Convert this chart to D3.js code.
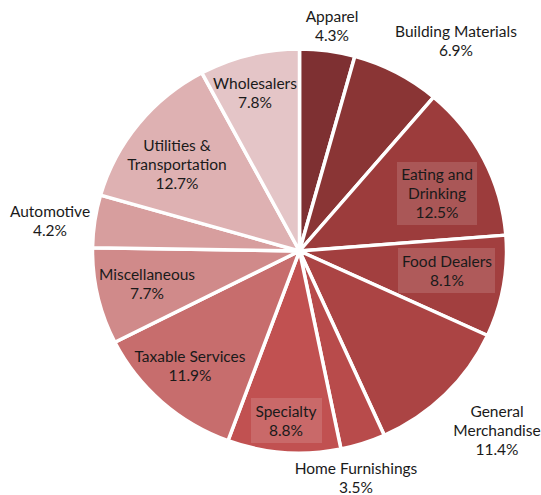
<!DOCTYPE html>
<html>
<head>
<meta charset="utf-8">
<script src="https://cdn.jsdelivr.net/npm/d3@7"></script>
<style>
  body { margin: 0; background: #fff; }
  svg { display: block; }
</style>
</head>
<body>
<svg id="chart"></svg>
<script>
// data
var categories = ['Apparel', 'Building Materials', 'Eating and Drinking', 'Food Dealers',
  'General Merchandise', 'Home Furnishings', 'Specialty', 'Taxable Services',
  'Miscellaneous', 'Automotive', 'Utilities & Transportation', 'Wholesalers']
var values = [4.3, 6.9, 12.5, 8.1, 11.4, 3.5, 8.8, 11.9, 7.7, 4.2, 12.7, 7.8]

// colours, darkest first
var colors = ['#7e3032', '#8a3535', '#9c3c3c', '#a23f3f', '#ab4444', '#b84b4b',
  '#c15151', '#c76d6d', '#d08a8a', '#d79e9e', '#deb1b2', '#e4c5c7']

// label layout: text lines, centre x, first baseline, boxed or not
var labelLayout = [
  { lines: ['Apparel'], x: 332, y: 22 },
  { lines: ['Building Materials'], x: 456, y: 37 },
  { lines: ['Eating and', 'Drinking'], x: 437, y: 180, box: [397, 162, 80, 63] },
  { lines: ['Food Dealers'], x: 447, y: 267, box: [398, 248, 97, 45] },
  { lines: ['General', 'Merchandise'], x: 497, y: 417 },
  { lines: ['Home Furnishings'], x: 356, y: 474 },
  { lines: ['Specialty'], x: 286, y: 417, box: [251, 398, 71, 45] },
  { lines: ['Taxable Services'], x: 190, y: 362 },
  { lines: ['Miscellaneous'], x: 147, y: 280 },
  { lines: ['Automotive'], x: 50, y: 217 },
  { lines: ['Utilities &', 'Transportation'], x: 177, y: 151 },
  { lines: ['Wholesalers'], x: 255, y: 89 }
]

var width = 541
var height = 495
var cx = 299.5
var cy = 251
var radius = 207
var squash = 0.976
var lineH = 19

var svg = d3.select('#chart')
  .attr('width', width)
  .attr('height', height)

var color = d3.scaleOrdinal().domain(categories).range(colors)

var pie = d3.pie().sort(null).value((d) => d)
var arcs = pie(values)

var arc = d3.arc().innerRadius(0).outerRadius(radius)

var g = svg.append('g').attr('transform', `translate(${cx},${cy}) scale(1,${squash})`)

g.selectAll('path')
  .data(arcs)
  .join('path')
  .attr('fill', (d, i) => color(categories[i]))
  .attr('stroke', '#fff')
  .attr('stroke-width', 3.5)
  .attr('stroke-linejoin', 'round')
  .attr('d', arc)

// label boxes
svg.append('g')
  .selectAll('rect')
  .data(labelLayout.filter((d) => d.box))
  .join('rect')
  .attr('x', (d) => d.box[0])
  .attr('y', (d) => d.box[1])
  .attr('width', (d) => d.box[2])
  .attr('height', (d) => d.box[3])
  .attr('fill', '#fff')
  .attr('fill-opacity', 0.14)

var labels = svg.append('g')
  .attr('font-family', 'Lato, "Open Sans", sans-serif')
  .attr('font-size', 15.5)
  .attr('fill', '#1a1a1a')
  .attr('text-anchor', 'middle')
  .selectAll('text')
  .data(labelLayout)
  .join('text')
  .attr('x', (d) => d.x)
  .attr('y', (d) => d.y)

labels.each(function (d, i) {
  var t = d3.select(this)
  d.lines.concat([values[i].toFixed(1) + '%']).forEach((line, j) => {
    t.append('tspan')
      .attr('x', d.x)
      .attr('y', d.y + j * lineH)
      .text(line)
  })
})
</script>
</body>
</html>
